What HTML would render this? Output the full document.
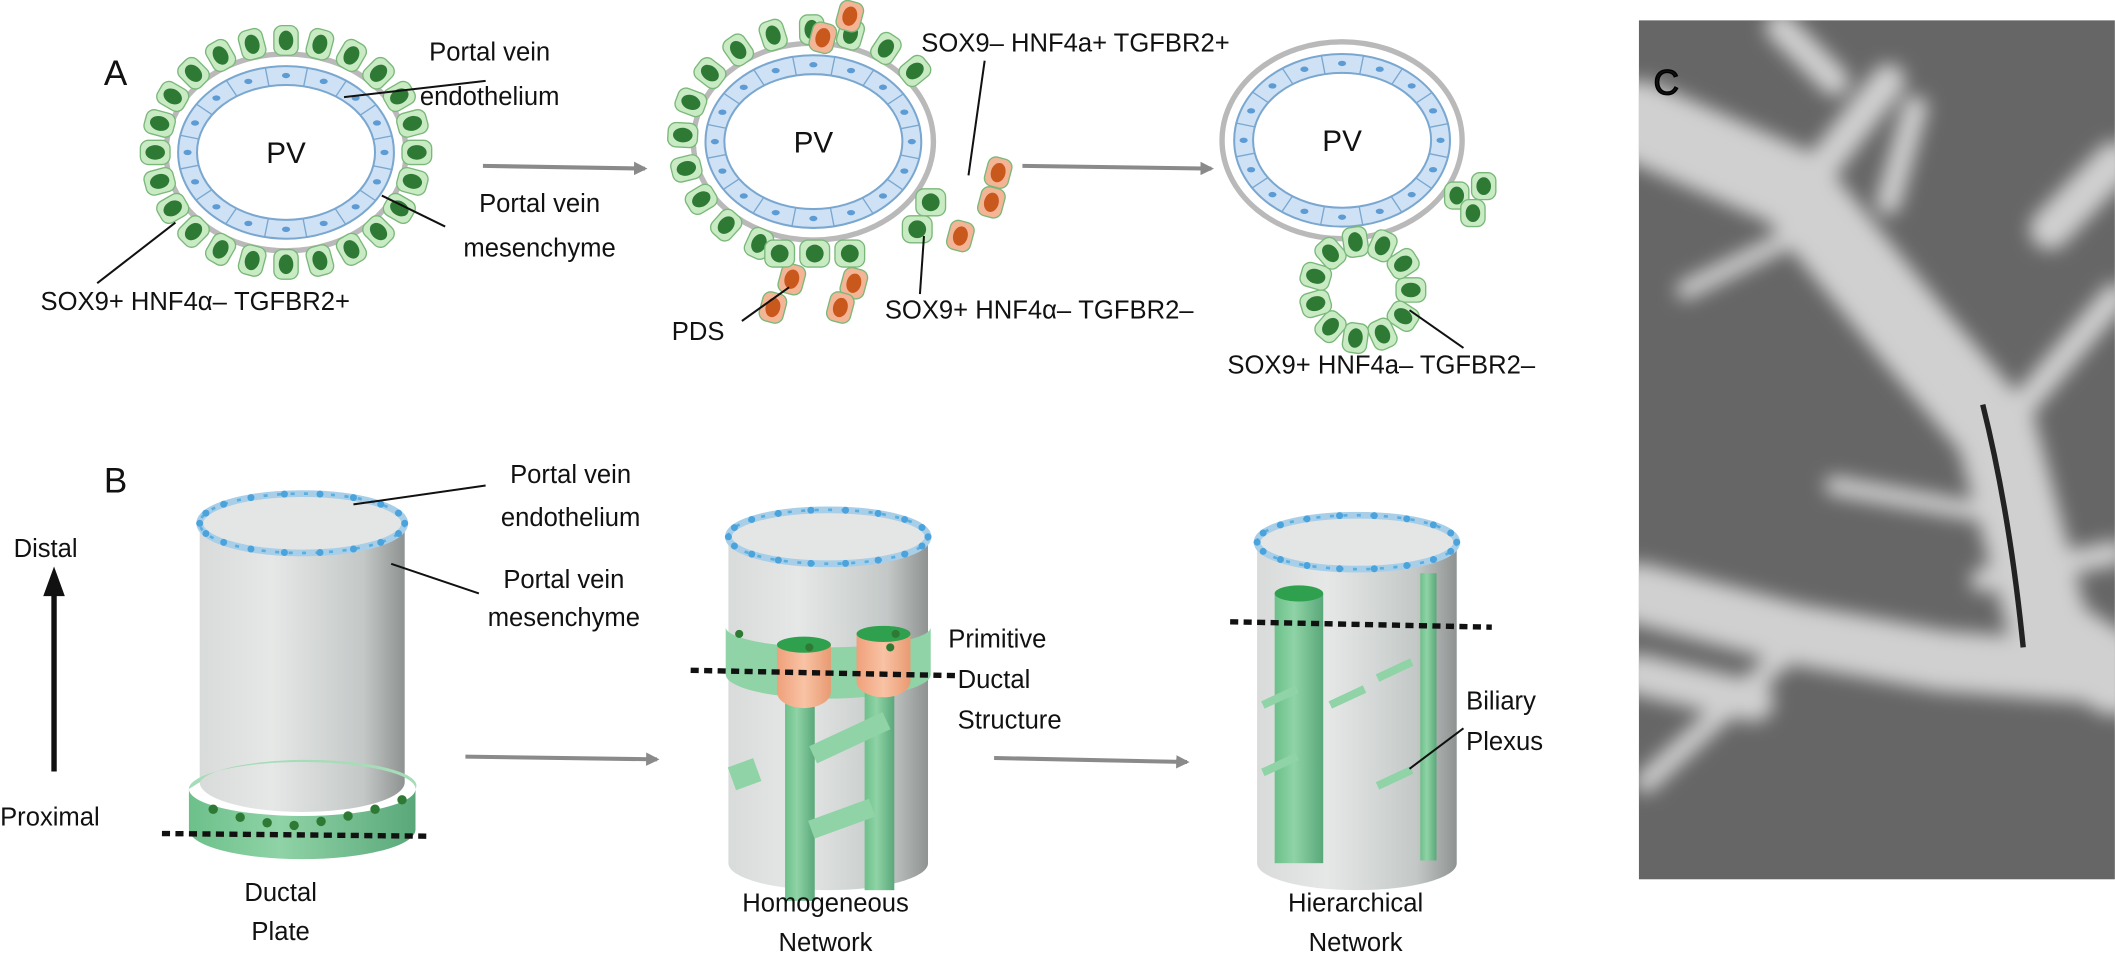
<!DOCTYPE html>
<html><head><meta charset="utf-8"><style>
html,body{margin:0;padding:0;background:#fff;}
svg{display:block;}
text{font-family:"Liberation Sans",sans-serif;fill:#111;}
</style></head><body>
<svg id="s" width="2115" height="963" viewBox="0 0 1568 714" xmlns="http://www.w3.org/2000/svg">
<defs>
<linearGradient id="cyl" x1="0" x2="1" y1="0" y2="0">
<stop offset="0" stop-color="#d8dbda"/><stop offset="0.35" stop-color="#e6e8e7"/><stop offset="0.8" stop-color="#c3c8c7"/><stop offset="1" stop-color="#8e9392"/></linearGradient>
<linearGradient id="grn" x1="0" x2="1" y1="0" y2="0">
<stop offset="0" stop-color="#6cc08a"/><stop offset="0.4" stop-color="#8fd3a6"/><stop offset="1" stop-color="#5aa87a"/></linearGradient>
<linearGradient id="org" x1="0" x2="1"><stop offset="0" stop-color="#f0a07a"/><stop offset="0.5" stop-color="#f8c3a5"/><stop offset="1" stop-color="#e99a72"/></linearGradient>
<filter id="bl" filterUnits="userSpaceOnUse" x="1150" y="0" width="450" height="700"><feGaussianBlur stdDeviation="7"/></filter>
<marker id="ar" markerWidth="10" markerHeight="10" refX="8" refY="5" orient="auto" markerUnits="userSpaceOnUse"><path d="M0,0 L10,5 L0,10 z" fill="#8a8a8a"/></marker>
<clipPath id="pc"><rect x="1215" y="15" width="353" height="637"/></clipPath>
</defs>
<g id="A"></g>
<g id="B"></g>
<!-- photo C -->
<g clip-path="url(#pc)">
<rect x="1215" y="15" width="353" height="637" fill="#666"/>
<g stroke="#d0d0d0" fill="none" stroke-linecap="round" filter="url(#bl)">
<path d="M1215,90 L1330,140 L1420,250 L1480,320 L1520,470 L1568,500" stroke-width="60"/>
<path d="M1215,440 L1330,470 L1440,490 L1568,500" stroke-width="45"/>
<path d="M1330,150 L1400,60" stroke-width="25"/>
<path d="M1250,215 L1330,175" stroke-width="14"/>
<path d="M1220,580 L1340,470" stroke-width="16"/>
<path d="M1400,150 L1420,80" stroke-width="18"/>
<path d="M1360,360 L1470,380" stroke-width="14"/>
<path d="M1520,170 L1568,120" stroke-width="30"/>
<path d="M1500,300 L1568,220" stroke-width="20"/>
<path d="M1320,20 L1360,60" stroke-width="22"/>
<path d="M1470,430 L1568,410" stroke-width="18"/>
<path d="M1215,500 L1300,520" stroke-width="30"/>
</g>
<path d="M1470,300 Q1490,380 1500,480" stroke="#222" stroke-width="4" fill="none"/>
<text x="1226" y="70" font-size="26" fill="#fff" stroke="#000" stroke-width="1">C</text>
</g>
<!-- labels -->
<g font-size="19">
<text x="77" y="63" font-size="26">A</text>
<text x="77" y="365" font-size="26">B</text>
<text x="363" y="45" text-anchor="middle">Portal vein</text>
<text x="363" y="78" text-anchor="middle">endothelium</text>
<text x="400" y="157" text-anchor="middle">Portal vein</text>
<text x="400" y="190" text-anchor="middle">mesenchyme</text>
<text x="30" y="230">SOX9+ HNF4α– TGFBR2+</text>
<text x="683" y="38">SOX9– HNF4a+ TGFBR2+</text>
<text x="656" y="236">SOX9+ HNF4α– TGFBR2–</text>
<text x="498" y="252">PDS</text>
<text x="910" y="277">SOX9+ HNF4a– TGFBR2–</text>
<text x="423" y="358" text-anchor="middle">Portal vein</text>
<text x="423" y="390" text-anchor="middle">endothelium</text>
<text x="418" y="436" text-anchor="middle">Portal vein</text>
<text x="418" y="464" text-anchor="middle">mesenchyme</text>
<text x="10" y="413">Distal</text>
<text x="0" y="612">Proximal</text>
<text x="208" y="668" text-anchor="middle">Ductal</text>
<text x="208" y="697" text-anchor="middle">Plate</text>
<text x="612" y="676" text-anchor="middle">Homogeneous</text>
<text x="612" y="705" text-anchor="middle">Network</text>
<text x="1005" y="676" text-anchor="middle">Hierarchical</text>
<text x="1005" y="705" text-anchor="middle">Network</text>
<text x="703" y="480">Primitive</text>
<text x="710" y="510">Ductal</text>
<text x="710" y="540">Structure</text>
<text x="1087" y="526">Biliary</text>
<text x="1087" y="556">Plexus</text>
</g>
<!-- arrows -->
<g stroke="#8a8a8a" stroke-width="3" fill="none" marker-end="url(#ar)">
<line x1="358" y1="123" x2="478" y2="125"/>
<line x1="758" y1="123" x2="898" y2="125"/>
<line x1="345" y1="561" x2="487" y2="563"/>
<line x1="737" y1="562" x2="880" y2="565"/>
</g>
<line x1="40" y1="572" x2="40" y2="440" stroke="#111" stroke-width="4"/>
<path d="M32,442 L40,420 L48,442z" fill="#111"/>
<!-- leader lines -->
<g stroke="#111" stroke-width="1.5">
<line x1="255" y1="72" x2="360" y2="60"/>
<line x1="283" y1="145" x2="330" y2="168"/>
<line x1="130" y1="165" x2="72" y2="210"/>
<line x1="730" y1="45" x2="718" y2="130"/>
<line x1="685" y1="175" x2="682" y2="218"/>
<line x1="585" y1="213" x2="550" y2="238"/>
<line x1="1045" y1="230" x2="1085" y2="258"/>
<line x1="262" y1="374" x2="360" y2="360"/>
<line x1="290" y1="418" x2="355" y2="440"/>
<line x1="1045" y1="570" x2="1085" y2="540"/>
</g>
</svg>
<script>
const NS="http://www.w3.org/2000/svg";
function el(p,t,a){const e=document.createElementNS(NS,t);for(const k in a)e.setAttribute(k,a[k]);p.appendChild(e);return e;}
const A=document.getElementById('A'),B=document.getElementById('B');
function cell(g,x,y,rot,fill,nuc,w,h){const gg=el(g,'g',{transform:`translate(${x},${y}) rotate(${rot})`});
el(gg,'rect',{x:-w/2,y:-h/2,width:w,height:h,rx:6,fill:fill,stroke:'#7ab87a','stroke-width':1});
el(gg,'ellipse',{cx:0,cy:0,rx:w*0.3,ry:h*0.33,fill:nuc});}
function ringCells(g,cx,cy,rx,ry,n,a0,a1,fill,nuc,w,h){for(let i=0;i<n;i++){const a=a0+(a1-a0)*i/(n-1+(a1-a0>=6.2?1:0));const x=cx+rx*Math.cos(a),y=cy+ry*Math.sin(a);cell(g,x,y,a*180/Math.PI+90,fill,nuc,w||20,h||22);}}
function vessel(g,cx,cy,rx,ry){el(g,'ellipse',{cx,cy,rx:rx+7,ry:ry+7,fill:'none',stroke:'#b9b9b9','stroke-width':4});
el(g,'ellipse',{cx,cy,rx:rx-2,ry:ry-2,fill:'#cfe2f5',stroke:'#7aa7d0','stroke-width':1.5});
el(g,'ellipse',{cx,cy,rx:rx-16,ry:ry-16,fill:'#fff',stroke:'#7aa7d0','stroke-width':1.5});
for(let i=0;i<16;i++){const a=i/16*6.283;el(g,'ellipse',{cx:cx+(rx-9)*Math.cos(a),cy:cy+(ry-9)*Math.sin(a),rx:3,ry:2,fill:'#5d9bd5'});
el(g,'line',{x1:cx+(rx-16)*Math.cos(a+0.2),y1:cy+(ry-16)*Math.sin(a+0.2),x2:cx+(rx-2)*Math.cos(a+0.2),y2:cy+(ry-2)*Math.sin(a+0.2),stroke:'#7aa7d0','stroke-width':1});}
el(g,'text',{x:cx,y:cy+8,'text-anchor':'middle','font-size':22}).textContent='PV';}
const G='#c9ebc4',GN='#2e7a35',O='#f3b596',ON='#c9581c';
vessel(A,212,113,82,66);
ringCells(A,212,113,97,83,24,0,6.283,G,GN,18,22);
vessel(A,603,105,82,66);
ringCells(A,603,105,97,83,13,2.0,5.6,G,GN,18,22);
[[630,12],[610,28],[740,128],[712,175],[735,150],[587,207],[573,228],[633,210],[623,228]].forEach(p=>cell(A,p[0],p[1],15,O,ON,18,22));
[[578,188],[604,188],[630,188],[680,170],[690,150]].forEach(p=>cell(A,p[0],p[1],0,G,GN,22,20));
vessel(A,995,104,82,66);
[[1080,145],[1100,138],[1092,158]].forEach(p=>cell(A,p[0],p[1],0,G,GN,18,20));
ringCells(A,1010,215,36,36,11,0,6.283,G,GN,18,22);
function cyl(x,w,top,bot,ry){const g=el(B,'g',{});
el(g,'path',{d:`M${x},${top} L${x},${bot} A${w/2},${ry} 0 0 0 ${x+w},${bot} L${x+w},${top} z`,fill:'url(#cyl)'});
el(g,'ellipse',{cx:x+w/2,cy:top,rx:w/2,ry:ry,fill:'#e4e6e5',stroke:'#a9cfe8','stroke-width':5});
el(g,'ellipse',{cx:x+w/2,cy:top,rx:w/2,ry:ry,fill:'none',stroke:'#5aafe0','stroke-width':2,'stroke-dasharray':'3 7'});
for(let i=0;i<18;i++){const a=i/18*6.283;el(g,'circle',{cx:x+w/2+w/2*Math.cos(a),cy:top+ry*Math.sin(a),r:2.6,fill:'#4aa3dc'});}
return g;}
cyl(148,152,388,580,22);
el(B,'path',{d:'M140,585 L140,615 A84,22 0 0 0 308,615 L308,585 A84,20 0 0 1 140,585z',fill:'url(#grn)'});
el(B,'path',{d:'M140,585 A84,20 0 0 1 308,585 A76,18 0 0 0 148,580z',fill:'#a7dcb8'});
[[158,600],[178,606],[198,610],[218,612],[238,609],[258,605],[278,600],[298,593]].forEach(p=>el(B,'circle',{cx:p[0],cy:p[1],r:3.5,fill:'#2e7a35'}));
cyl(540,148,398,640,20);
el(B,'path',{d:'M538,465 L538,500 A76,18 0 0 0 690,500 L690,465 A76,15 0 0 1 538,465z',fill:'#8fd3a6'});
[[576,478],[635,470]].forEach(p=>{el(B,'rect',{x:p[0]+6,y:p[1]+40,width:22,height:150,fill:'url(#grn)'});
el(B,'path',{d:`M${p[0]},${p[1]} L${p[0]},${p[1]+35} A20,12 0 0 0 ${p[0]+40},${p[1]+35} L${p[0]+40},${p[1]} z`,fill:'url(#org)'});
el(B,'ellipse',{cx:p[0]+20,cy:p[1],rx:20,ry:6,fill:'#2ea04e'});});
[[548,470],[600,480],[664,470],[660,480]].forEach(p=>el(B,'circle',{cx:p[0],cy:p[1],r:3,fill:'#2e7a35'}));
el(B,'rect',{x:542,y:565,width:20,height:18,fill:'#8fd3a6',transform:'rotate(-20 552 574)'});
el(B,'rect',{x:600,y:540,width:60,height:14,fill:'#8fd3a6',transform:'rotate(-25 630 547)'});
el(B,'rect',{x:600,y:600,width:48,height:14,fill:'#8fd3a6',transform:'rotate(-20 624 607)'});
cyl(932,148,402,640,20);
el(B,'rect',{x:945,y:440,width:36,height:200,fill:'url(#grn)'});
el(B,'ellipse',{cx:963,cy:440,rx:18,ry:6,fill:'#2ea04e'});
el(B,'rect',{x:1053,y:425,width:12,height:213,fill:'url(#grn)'});
[[935,520],[935,570],[985,520],[1020,500],[1020,580]].forEach(p=>el(B,'rect',{x:p[0],y:p[1],width:28,height:6,fill:'#8fd3a6',transform:`rotate(-25 ${p[0]} ${p[1]})`}));
[[120,618,320,620],[512,497,712,501],[912,461,1106,465]].forEach(l=>el(B,'line',{x1:l[0],y1:l[1],x2:l[2],y2:l[3],stroke:'#111','stroke-width':4,'stroke-dasharray':'6 4'}));
</script>
</body></html>
